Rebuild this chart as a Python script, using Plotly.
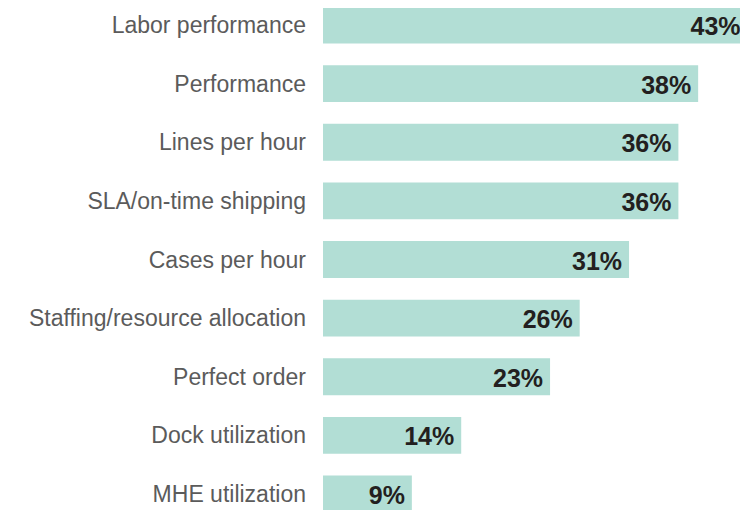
import plotly.graph_objects as go

categories = ["Labor performance", "Performance", "Lines per hour", "SLA/on-time shipping",
              "Cases per hour", "Staffing/resource allocation", "Perfect order",
              "Dock utilization", "MHE utilization"]
values = [43, 38, 36, 36, 31, 26, 23, 14, 9]
value_labels = [f"<b>{v}%\u00a0</b>" for v in values]

y_range = [8.273, -0.290]
text_shift = 0.065  # small downward nudge of the value labels (in category units)

fig = go.Figure()
fig.add_trace(go.Bar(
    y=categories, x=values, orientation="h",
    marker=dict(color="#b2ded5", line=dict(width=0)),
    width=0.63,
    hoverinfo="skip",
))
fig.add_trace(go.Scatter(
    y=categories, x=values, mode="text", yaxis="y2",
    text=value_labels, textposition="middle left",
    textfont=dict(family="Liberation Sans, Arial", size=25, color="#231f20"),
    cliponaxis=False,
    hoverinfo="skip",
))

fig.update_layout(
    width=740, height=502,
    margin=dict(l=315, r=0, t=0, b=0),
    paper_bgcolor="white", plot_bgcolor="white",
    showlegend=False,
    xaxis=dict(range=[0, 43.05], visible=False, fixedrange=True),
    yaxis=dict(
        type="category", categoryorder="array", categoryarray=categories,
        range=y_range,
        showgrid=False, zeroline=False, showline=False, ticks="",
        ticklabelstandoff=16,
        tickfont=dict(family="Liberation Sans, Arial", size=23, color="#5b5b5b"),
    ),
    yaxis2=dict(
        type="category", categoryorder="array", categoryarray=categories,
        range=[y_range[0] - text_shift, y_range[1] - text_shift],
        overlaying="y", visible=False,
    ),
)

fig.write_html("out.html")
